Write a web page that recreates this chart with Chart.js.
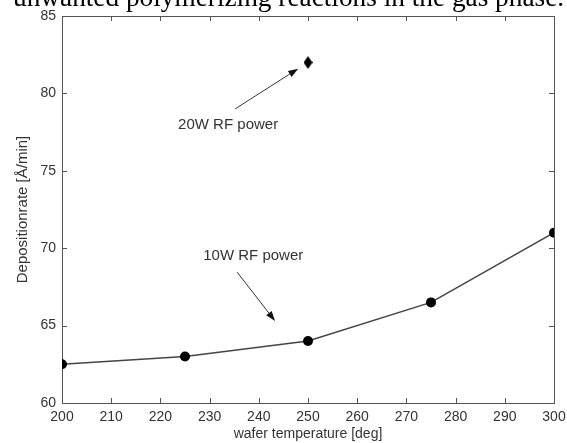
<!DOCTYPE html>
<html>
<head>
<meta charset="utf-8">
<script src="https://cdn.jsdelivr.net/npm/chart.js@4.4.0/dist/chart.umd.min.js"></script>
<style>
  html, body { margin: 0; padding: 0; background: #fff; overflow: hidden; }
  #wrap { position: relative; width: 567px; height: 443px; }
  #topline {
    position: absolute; left: 13px; top: -17px; white-space: nowrap;
    font-family: "Liberation Serif", "Times New Roman", serif; font-size: 27.3px;
    line-height: 28px; color: #000;
  }
  canvas { position: absolute; left: 0; top: 0; }
</style>
</head>
<body>
<div id="wrap">
  <canvas id="myChart" width="567" height="443"></canvas>
  <div id="topline">unwanted polymerizing reactions in the gas phase.</div>
</div>
<script>
// data
var temp10W = [200, 225, 250, 275, 300];
var rate10W = [62.5, 63.0, 64.0, 66.5, 71.0];
var temp20W = [250];
var rate20W = [82.0];

var xTicks = [200, 210, 220, 230, 240, 250, 260, 270, 280, 290, 300];
var yTicks = [60, 65, 70, 75, 80, 85];

// annotation texts + arrows, in data units
var noteText = ['20W RF power', '10W RF power'];
var noteAt = [[223.6, 78.0], [228.7, 69.5]];
var arrowFrom = [[235.2, 79.0], [235.6, 68.45]];
var arrowTo = [[248.0, 81.6], [243.3, 65.3]];

var sans = '"Liberation Sans", Arial, sans-serif';
var grey = '#333';

// tall diamond marker for the 20W point
var diamond = document.createElement('canvas');
diamond.width = 9;
diamond.height = 13;
var dctx = diamond.getContext('2d');
dctx.fillStyle = '#000';
dctx.beginPath();
dctx.moveTo(4.5, 0);
dctx.lineTo(9, 6.5);
dctx.lineTo(4.5, 13);
dctx.lineTo(0, 6.5);
dctx.closePath();
dctx.fill();

var framePlugin = {
    id: 'frame',
    beforeDatasetsDraw(chart) {
        var ctx = chart.ctx;
        var a = chart.chartArea;
        var xs = chart.scales.x, ys = chart.scales.y;
        ctx.save();
        ctx.strokeStyle = '#555';
        ctx.lineWidth = 1;
        ctx.strokeRect(a.left + 0.5, a.top + 0.5, a.right - a.left, a.bottom - a.top);
        ctx.beginPath();
        xTicks.forEach(function (v) {
            var px = Math.round(xs.getPixelForValue(v)) + 0.5;
            ctx.moveTo(px, a.bottom); ctx.lineTo(px, a.bottom - 5);
            ctx.moveTo(px, a.top); ctx.lineTo(px, a.top + 5);
        });
        yTicks.forEach(function (v) {
            var py = Math.round(ys.getPixelForValue(v)) + 0.5;
            ctx.moveTo(a.left, py); ctx.lineTo(a.left + 5, py);
            ctx.moveTo(a.right, py); ctx.lineTo(a.right - 5, py);
        });
        ctx.stroke();
        ctx.restore();
    },
    afterDatasetsDraw(chart) {
        var ctx = chart.ctx;
        var xs = chart.scales.x, ys = chart.scales.y;
        ctx.save();
        ctx.font = '15px ' + sans;
        ctx.textBaseline = 'middle';
        for (var i = 0; i < noteText.length; i++) {
            ctx.fillStyle = grey;
            ctx.fillText(noteText[i], xs.getPixelForValue(noteAt[i][0]), ys.getPixelForValue(noteAt[i][1]));
            var x1 = xs.getPixelForValue(arrowFrom[i][0]), y1 = ys.getPixelForValue(arrowFrom[i][1]);
            var x2 = xs.getPixelForValue(arrowTo[i][0]), y2 = ys.getPixelForValue(arrowTo[i][1]);
            var ang = Math.atan2(y2 - y1, x2 - x1);
            var hl = 10, hw = 3.5;
            var bx = x2 - hl * Math.cos(ang), by = y2 - hl * Math.sin(ang);
            ctx.strokeStyle = '#333';
            ctx.lineWidth = 1;
            ctx.beginPath();
            ctx.moveTo(x1, y1);
            ctx.lineTo(bx, by);
            ctx.stroke();
            ctx.fillStyle = '#111';
            ctx.beginPath();
            ctx.moveTo(x2, y2);
            ctx.lineTo(bx + hw * Math.sin(ang), by - hw * Math.cos(ang));
            ctx.lineTo(bx - hw * Math.sin(ang), by + hw * Math.cos(ang));
            ctx.closePath();
            ctx.fill();
        }
        ctx.restore();
    }
};

var ctx = document.getElementById('myChart');
var chart = new Chart(ctx, {
    type: 'scatter',
    data: {
        datasets: [{
            label: '10W RF power',
            data: temp10W.map(function (t, i) { return { x: t, y: rate10W[i] }; }),
            showLine: true,
            borderColor: '#444',
            borderWidth: 1.5,
            pointBackgroundColor: '#000',
            pointBorderColor: '#000',
            pointRadius: 5,
            pointBorderWidth: 0
        }, {
            label: '20W RF power',
            data: temp20W.map(function (t, i) { return { x: t, y: rate20W[i] }; }),
            showLine: false,
            pointStyle: diamond
        }]
    },
    options: {
        responsive: false,
        animation: false,
        layout: { padding: { top: 16, right: 13, left: 0, bottom: 0 } },
        plugins: {
            legend: { display: false },
            tooltip: { enabled: false }
        },
        scales: {
            x: {
                type: 'linear',
                min: 200, max: 300,
                afterFit: function (s) { s.height = 40; s.paddingLeft = 0; s.paddingRight = 0; },
                afterBuildTicks: function (s) { s.ticks = xTicks.map(function (v) { return { value: v }; }); },
                grid: { display: false, drawTicks: false },
                border: { display: false },
                ticks: { color: grey, font: { family: sans, size: 14 }, padding: 6, maxRotation: 0 },
                title: { display: true, text: 'wafer temperature [deg]', color: grey, font: { family: sans, size: 14 }, padding: 0 }
            },
            y: {
                type: 'linear',
                min: 60, max: 85,
                afterFit: function (s) { s.width = 62; s.paddingTop = 0; s.paddingBottom = 0; },
                afterBuildTicks: function (s) { s.ticks = yTicks.map(function (v) { return { value: v }; }); },
                grid: { display: false, drawTicks: false },
                border: { display: false },
                ticks: { color: grey, font: { family: sans, size: 14 }, padding: 6 },
                title: { display: true, text: 'Depositionrate [Å/min]', color: grey, font: { family: sans, size: 15 }, padding: { top: 14, bottom: 0 } }
            }
        }
    },
    plugins: [framePlugin]
});
</script>
</body>
</html>
